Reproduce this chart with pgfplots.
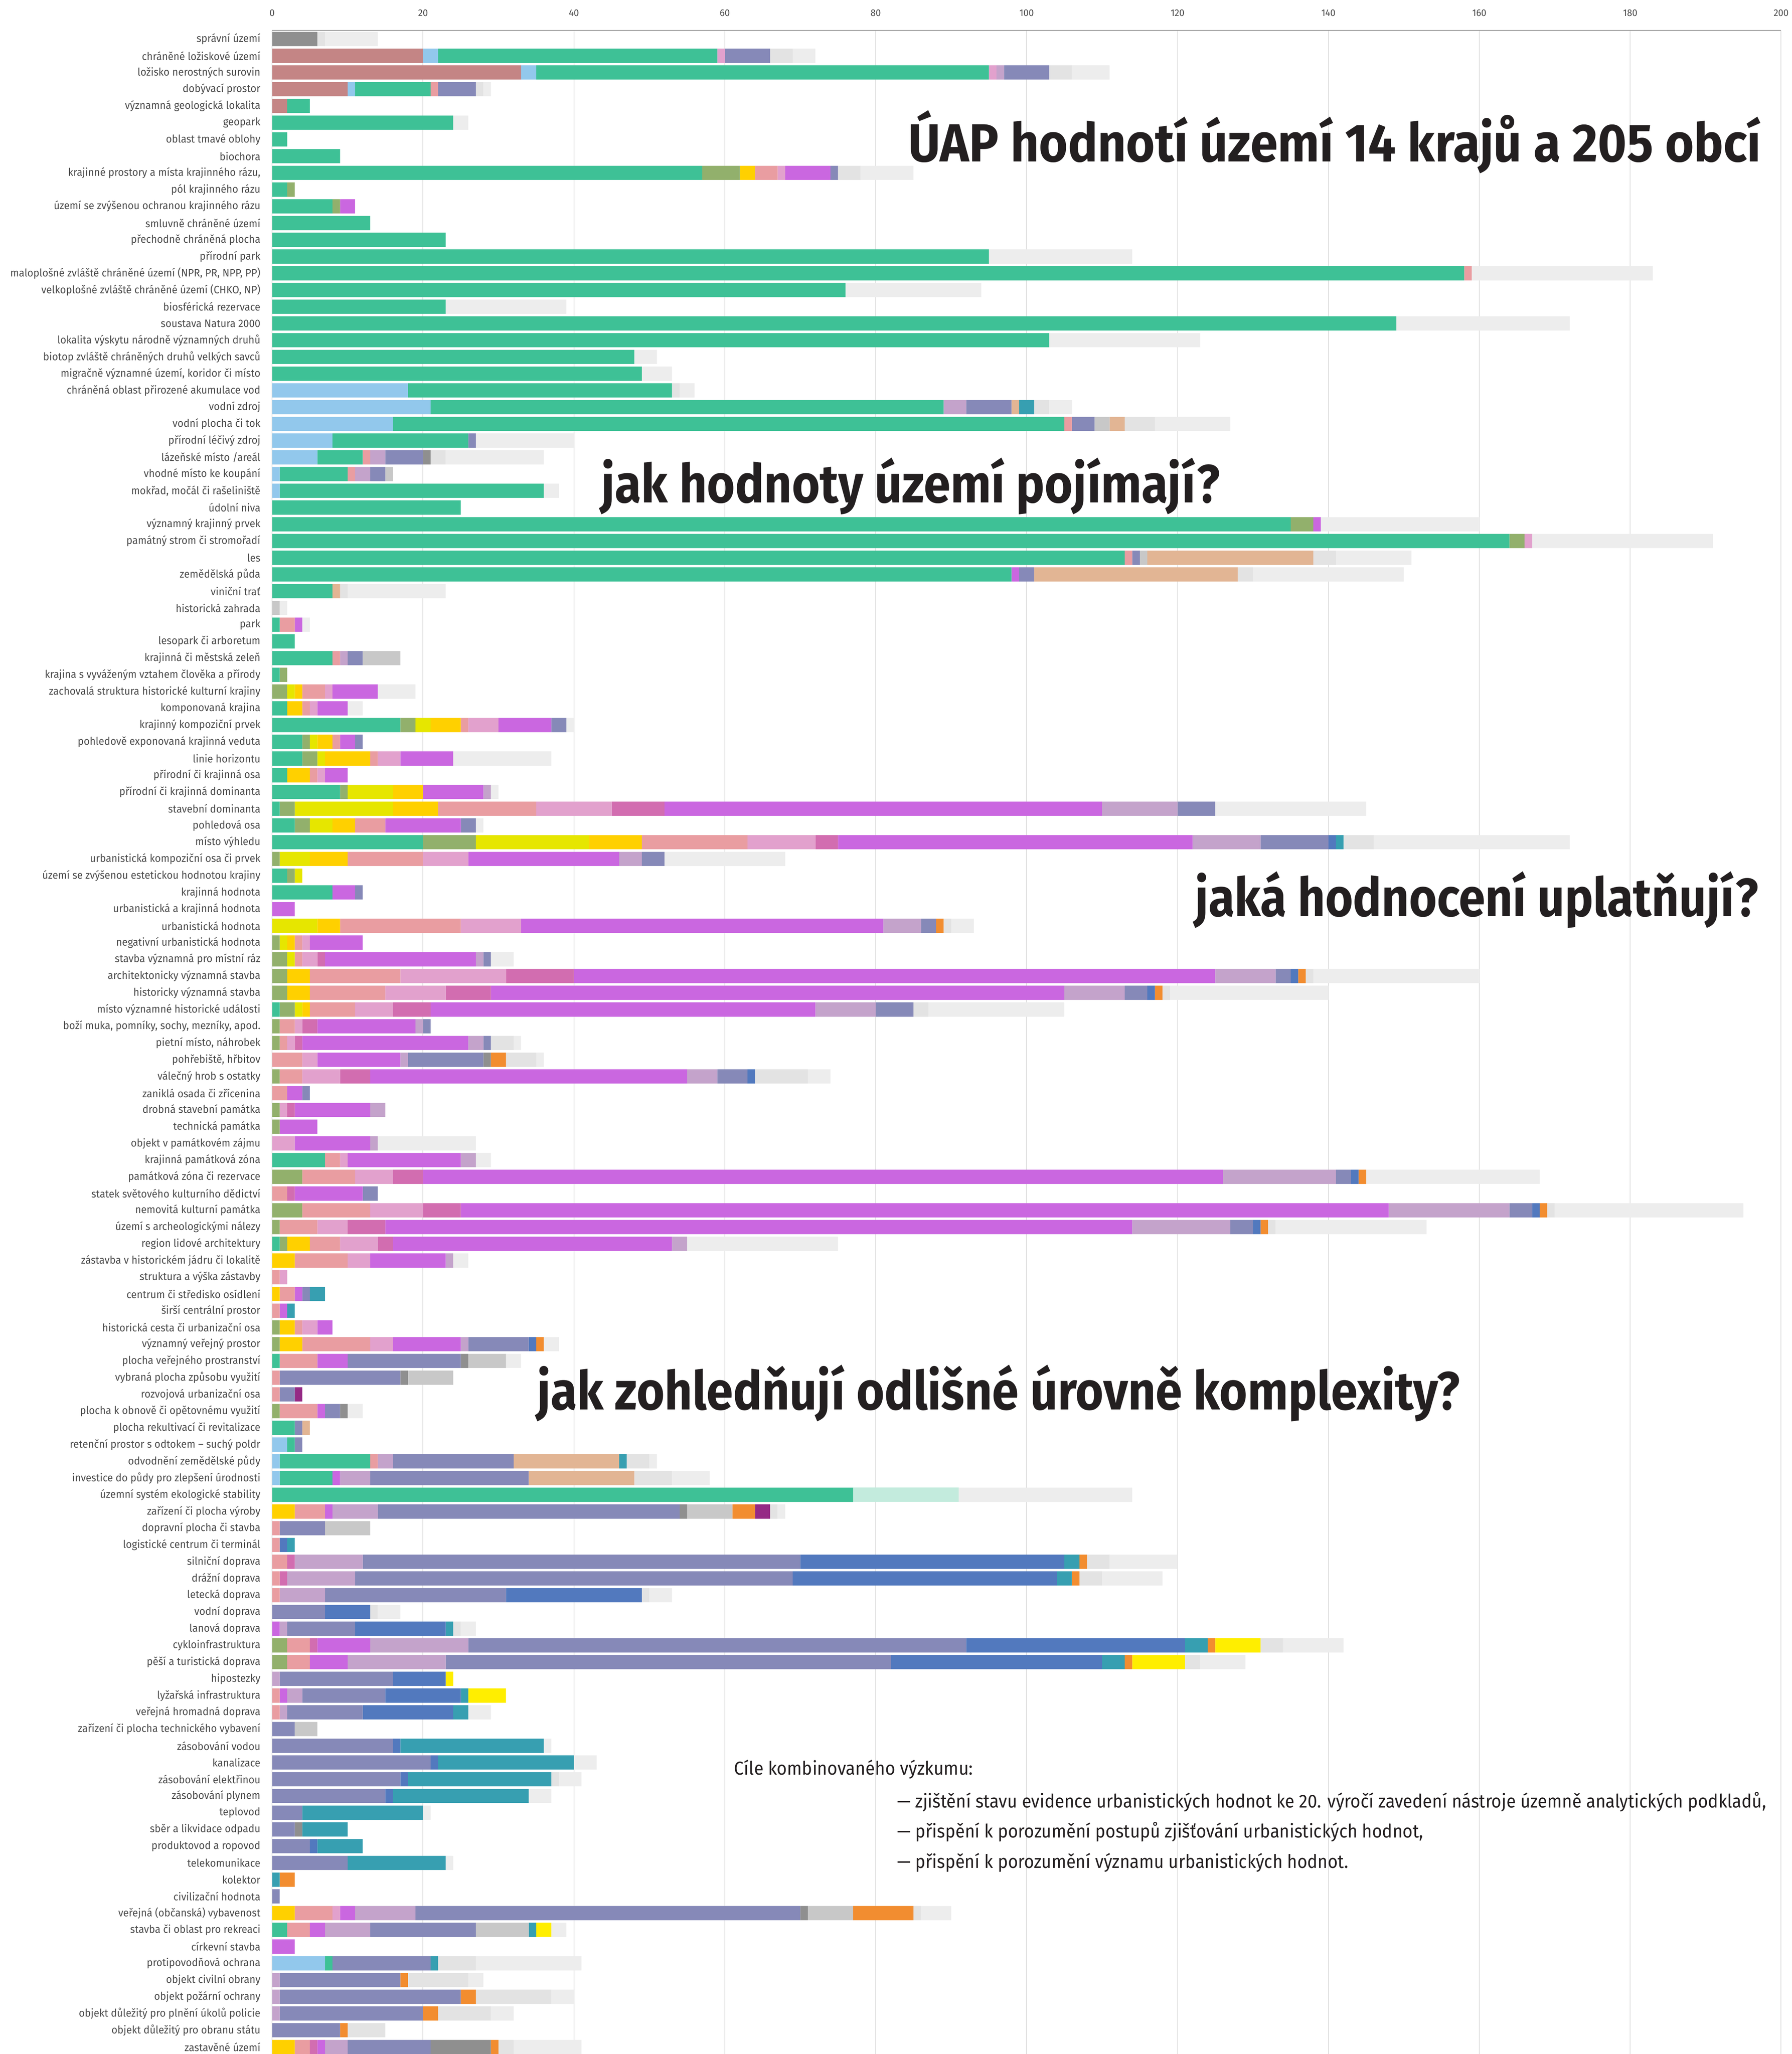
\documentclass[border=0pt]{standalone}
\usepackage{fontspec}
\usepackage{graphicx}
\usepackage{pgfplots}
\usepackage{pgfplotstable}
\pgfplotsset{compat=1.18}
\setmainfont{Fira Sans}
\newfontfamily\labelfont{Fira Sans}[FakeStretch=0.95]
\newfontfamily\titlefont{Fira Sans}

% segment colours, in stacking order
\definecolor{cro}{HTML}{C48585}
\definecolor{clb}{HTML}{92C8EC}
\definecolor{cgr}{HTML}{3EC196}
\definecolor{cmi}{HTML}{C3EBDD}
\definecolor{col}{HTML}{92B06C}
\definecolor{cle}{HTML}{E6E600}
\definecolor{cgo}{HTML}{FFD000}
\definecolor{csa}{HTML}{E99DA1}
\definecolor{cpi}{HTML}{E2A1CD}
\definecolor{cma}{HTML}{D26DB0}
\definecolor{cmg}{HTML}{CA67E0}
\definecolor{cli}{HTML}{C4A3CB}
\definecolor{cbg}{HTML}{8689B8}
\definecolor{cgy}{HTML}{8F8F8F}
\definecolor{clg}{HTML}{C8C8C8}
\definecolor{cta}{HTML}{E2B594}
\definecolor{cbl}{HTML}{5279BE}
\definecolor{cte}{HTML}{379FB1}
\definecolor{cor}{HTML}{F28D30}
\definecolor{cpu}{HTML}{952A85}
\definecolor{cy3}{HTML}{FFEE00}
\definecolor{cv1}{HTML}{E3E3E3}
\definecolor{cv2}{HTML}{EDEDED}
\definecolor{cgrid}{HTML}{E0E0E0}
\definecolor{caxis}{HTML}{A0A0A0}
\definecolor{clabel}{HTML}{4D4D4D}
\definecolor{ctitle}{HTML}{231F20}

% one row per category (top to bottom), one column per colour
\pgfplotstableread{
ro lb gr mi ol le go sa pi ma mg li bg gy lg ta bl te or pu y3 v1 v2
0 0 0 0 0 0 0 0 0 0 0 0 0 6 0 0 0 0 0 0 0 1 7
20 2 37 0 0 0 0 0 1 0 0 0 6 0 0 0 0 0 0 0 0 3 3
33 2 60 0 0 0 0 0 1 0 0 1 6 0 0 0 0 0 0 0 0 3 5
10 1 10 0 0 0 0 1 0 0 0 0 5 0 0 0 0 0 0 0 0 1 1
2 0 3 0 0 0 0 0 0 0 0 0 0 0 0 0 0 0 0 0 0 0 0
0 0 24 0 0 0 0 0 0 0 0 0 0 0 0 0 0 0 0 0 0 0 2
0 0 2 0 0 0 0 0 0 0 0 0 0 0 0 0 0 0 0 0 0 0 0
0 0 9 0 0 0 0 0 0 0 0 0 0 0 0 0 0 0 0 0 0 0 0
0 0 57 0 5 0 2 3 1 0 6 0 1 0 0 0 0 0 0 0 0 3 7
0 0 2 0 1 0 0 0 0 0 0 0 0 0 0 0 0 0 0 0 0 0 0
0 0 8 0 1 0 0 0 0 0 2 0 0 0 0 0 0 0 0 0 0 0 0
0 0 13 0 0 0 0 0 0 0 0 0 0 0 0 0 0 0 0 0 0 0 0
0 0 23 0 0 0 0 0 0 0 0 0 0 0 0 0 0 0 0 0 0 0 0
0 0 95 0 0 0 0 0 0 0 0 0 0 0 0 0 0 0 0 0 0 0 19
0 0 158 0 0 0 0 1 0 0 0 0 0 0 0 0 0 0 0 0 0 0 24
0 0 76 0 0 0 0 0 0 0 0 0 0 0 0 0 0 0 0 0 0 0 18
0 0 23 0 0 0 0 0 0 0 0 0 0 0 0 0 0 0 0 0 0 0 16
0 0 149 0 0 0 0 0 0 0 0 0 0 0 0 0 0 0 0 0 0 0 23
0 0 103 0 0 0 0 0 0 0 0 0 0 0 0 0 0 0 0 0 0 0 20
0 0 48 0 0 0 0 0 0 0 0 0 0 0 0 0 0 0 0 0 0 0 3
0 0 49 0 0 0 0 0 0 0 0 0 0 0 0 0 0 0 0 0 0 0 4
0 18 35 0 0 0 0 0 0 0 0 0 0 0 0 0 0 0 0 0 0 1 2
0 21 68 0 0 0 0 0 0 0 0 3 6 0 0 1 0 2 0 0 0 2 3
0 16 89 0 0 0 0 1 0 0 0 0 3 0 2 2 0 0 0 0 0 4 10
0 8 18 0 0 0 0 0 0 0 0 0 1 0 0 0 0 0 0 0 0 0 13
0 6 6 0 0 0 0 1 0 0 0 2 5 1 0 0 0 0 0 0 0 2 13
0 1 9 0 0 0 0 1 0 0 0 2 2 0 1 0 0 0 0 0 0 0 0
0 1 35 0 0 0 0 0 0 0 0 0 0 0 0 0 0 0 0 0 0 0 2
0 0 25 0 0 0 0 0 0 0 0 0 0 0 0 0 0 0 0 0 0 0 0
0 0 135 0 3 0 0 0 0 0 1 0 0 0 0 0 0 0 0 0 0 0 21
0 0 164 0 2 0 0 0 1 0 0 0 0 0 0 0 0 0 0 0 0 0 24
0 0 113 0 0 0 0 1 0 0 0 0 1 0 1 22 0 0 0 0 0 3 10
0 0 98 0 0 0 0 0 0 0 1 0 2 0 0 27 0 0 0 0 0 2 20
0 0 8 0 0 0 0 0 0 0 0 0 0 0 0 1 0 0 0 0 0 1 13
0 0 0 0 0 0 0 0 0 0 0 0 0 0 1 0 0 0 0 0 0 0 1
0 0 1 0 0 0 0 2 0 0 1 0 0 0 0 0 0 0 0 0 0 0 1
0 0 3 0 0 0 0 0 0 0 0 0 0 0 0 0 0 0 0 0 0 0 0
0 0 8 0 0 0 0 1 0 0 0 1 2 0 5 0 0 0 0 0 0 0 0
0 0 1 0 1 0 0 0 0 0 0 0 0 0 0 0 0 0 0 0 0 0 0
0 0 0 0 2 1 1 3 1 0 6 0 0 0 0 0 0 0 0 0 0 0 5
0 0 2 0 0 0 2 1 1 0 4 0 0 0 0 0 0 0 0 0 0 0 2
0 0 17 0 2 2 4 1 4 0 7 0 2 0 0 0 0 0 0 0 0 0 1
0 0 4 0 1 1 2 1 0 0 2 0 1 0 0 0 0 0 0 0 0 0 0
0 0 4 0 2 1 6 1 3 0 7 0 0 0 0 0 0 0 0 0 0 0 13
0 0 2 0 0 0 3 1 1 0 3 0 0 0 0 0 0 0 0 0 0 0 0
0 0 9 0 1 6 4 0 0 0 8 1 0 0 0 0 0 0 0 0 0 0 1
0 0 1 0 2 13 6 13 10 7 58 10 5 0 0 0 0 0 0 0 0 0 20
0 0 3 0 2 3 3 4 0 0 10 0 2 0 0 0 0 0 0 0 0 0 1
0 0 20 0 7 15 7 14 9 3 47 9 9 0 0 0 1 1 0 0 0 4 26
0 0 0 0 1 4 5 10 6 0 20 3 3 0 0 0 0 0 0 0 0 0 16
0 0 2 0 1 1 0 0 0 0 0 0 0 0 0 0 0 0 0 0 0 0 0
0 0 8 0 0 0 0 0 0 0 3 0 1 0 0 0 0 0 0 0 0 0 0
0 0 0 0 0 0 0 0 0 0 3 0 0 0 0 0 0 0 0 0 0 0 0
0 0 0 0 0 6 3 16 8 0 48 5 2 0 0 0 0 0 1 0 0 1 3
0 0 0 0 1 1 1 1 1 0 7 0 0 0 0 0 0 0 0 0 0 0 0
0 0 0 0 2 1 0 1 2 1 20 1 1 0 0 0 0 0 0 0 0 0 3
0 0 0 0 2 0 3 12 14 9 85 8 2 0 0 0 1 0 1 0 0 1 22
0 0 0 0 2 0 3 10 8 6 76 8 3 0 0 0 1 0 1 0 0 1 21
0 0 1 0 2 1 1 6 5 5 51 8 5 0 0 0 0 0 0 0 0 2 18
0 0 0 0 1 0 0 2 1 2 13 1 1 0 0 0 0 0 0 0 0 0 0
0 0 0 0 1 0 0 1 1 1 22 2 1 0 0 0 0 0 0 0 0 3 1
0 0 0 0 0 0 0 4 2 0 11 1 10 1 0 0 0 0 2 0 0 4 1
0 0 0 0 1 0 0 3 5 4 42 4 4 0 0 0 1 0 0 0 0 7 3
0 0 0 0 0 0 0 2 0 0 2 0 1 0 0 0 0 0 0 0 0 0 0
0 0 0 0 1 0 0 0 1 1 10 2 0 0 0 0 0 0 0 0 0 0 0
0 0 0 0 1 0 0 0 0 0 5 0 0 0 0 0 0 0 0 0 0 0 0
0 0 0 0 0 0 0 0 3 0 10 1 0 0 0 0 0 0 0 0 0 0 13
0 0 7 0 0 0 0 2 1 0 15 2 0 0 0 0 0 0 0 0 0 0 2
0 0 0 0 4 0 0 7 5 4 106 15 2 0 0 0 1 0 1 0 0 0 23
0 0 0 0 0 0 0 2 0 1 9 0 2 0 0 0 0 0 0 0 0 0 0
0 0 0 0 4 0 0 9 7 5 123 16 3 0 0 0 1 0 1 0 0 1 25
0 0 0 0 1 0 0 5 4 5 99 13 3 0 0 0 1 0 1 0 0 1 20
0 0 1 0 1 0 3 4 5 2 37 2 0 0 0 0 0 0 0 0 0 0 20
0 0 0 0 0 0 3 7 3 0 10 1 0 0 0 0 0 0 0 0 0 0 2
0 0 0 0 0 0 0 1 1 0 0 0 0 0 0 0 0 0 0 0 0 0 0
0 0 0 0 0 0 1 2 0 0 1 0 1 0 0 0 0 2 0 0 0 0 0
0 0 0 0 0 0 0 1 0 0 1 0 0 0 0 0 0 1 0 0 0 0 0
0 0 0 0 1 0 2 1 2 0 2 0 0 0 0 0 0 0 0 0 0 0 0
0 0 0 0 1 0 3 9 3 0 9 1 8 0 0 0 1 0 1 0 0 0 2
0 0 1 0 0 0 0 5 0 0 4 0 15 1 5 0 0 0 0 0 0 0 2
0 0 0 0 0 0 0 1 0 0 0 0 16 1 6 0 0 0 0 0 0 0 0
0 0 0 0 0 0 0 1 0 0 0 0 2 0 0 0 0 0 0 1 0 0 0
0 0 0 0 1 0 0 5 0 0 1 0 2 1 0 0 0 0 0 0 0 0 2
0 0 3 0 0 0 0 0 0 0 0 0 1 0 0 1 0 0 0 0 0 0 0
0 2 1 0 0 0 0 0 0 0 0 0 1 0 0 0 0 0 0 0 0 0 0
0 1 12 0 0 0 0 1 0 0 0 2 16 0 0 14 0 1 0 0 0 3 1
0 1 7 0 0 0 0 0 0 0 1 4 21 0 0 14 0 0 0 0 0 5 5
0 0 77 14 0 0 0 0 0 0 0 0 0 0 0 0 0 0 0 0 0 0 23
0 0 0 0 0 0 3 4 0 0 1 6 40 1 6 0 0 0 3 2 0 1 1
0 0 0 0 0 0 0 1 0 0 0 0 6 0 6 0 0 0 0 0 0 0 0
0 0 0 0 0 0 0 1 0 0 0 0 0 0 0 0 1 1 0 0 0 0 0
0 0 0 0 0 0 0 2 0 1 0 9 58 0 0 0 35 2 1 0 0 3 9
0 0 0 0 0 0 0 1 0 1 0 9 58 0 0 0 35 2 1 0 0 3 8
0 0 0 0 0 0 0 1 0 0 0 6 24 0 0 0 18 0 0 0 0 1 3
0 0 0 0 0 0 0 0 0 0 0 0 7 0 0 0 6 0 0 0 0 1 3
0 0 0 0 0 0 0 0 0 0 1 1 9 0 0 0 12 1 0 0 0 1 2
0 0 0 0 2 0 0 3 0 1 7 13 66 0 0 0 29 3 1 0 6 3 8
0 0 0 0 2 0 0 3 0 0 5 13 59 0 0 0 28 3 1 0 7 2 6
0 0 0 0 0 0 0 0 0 0 0 1 15 0 0 0 7 0 0 0 1 0 0
0 0 0 0 0 0 0 1 0 0 1 2 11 0 0 0 10 1 0 0 5 0 0
0 0 0 0 0 0 0 1 0 0 0 1 10 0 0 0 12 2 0 0 0 0 3
0 0 0 0 0 0 0 0 0 0 0 0 3 0 3 0 0 0 0 0 0 0 0
0 0 0 0 0 0 0 0 0 0 0 0 16 0 0 0 1 19 0 0 0 0 1
0 0 0 0 0 0 0 0 0 0 0 0 21 0 0 0 1 18 0 0 0 0 3
0 0 0 0 0 0 0 0 0 0 0 0 17 0 0 0 1 19 0 0 0 1 3
0 0 0 0 0 0 0 0 0 0 0 0 15 0 0 0 1 18 0 0 0 0 3
0 0 0 0 0 0 0 0 0 0 0 0 4 0 0 0 0 16 0 0 0 0 1
0 0 0 0 0 0 0 0 0 0 0 0 3 1 0 0 0 6 0 0 0 0 0
0 0 0 0 0 0 0 0 0 0 0 0 5 0 0 0 1 6 0 0 0 0 0
0 0 0 0 0 0 0 0 0 0 0 0 10 0 0 0 0 13 0 0 0 0 1
0 0 0 0 0 0 0 0 0 0 0 0 0 0 0 0 0 1 2 0 0 0 0
0 0 0 0 0 0 0 0 0 0 0 0 1 0 0 0 0 0 0 0 0 0 0
0 0 0 0 0 0 3 5 1 0 2 8 51 1 6 0 0 0 8 0 0 1 4
0 0 2 0 0 0 0 3 0 0 2 6 14 0 7 0 0 1 0 0 2 0 2
0 0 0 0 0 0 0 0 0 0 3 0 0 0 0 0 0 0 0 0 0 0 0
0 7 1 0 0 0 0 0 0 0 0 0 13 0 0 0 0 1 0 0 0 5 14
0 0 0 0 0 0 0 0 0 0 0 1 16 0 0 0 0 0 1 0 0 8 2
0 0 0 0 0 0 0 0 0 0 0 1 24 0 0 0 0 0 2 0 0 10 3
0 0 0 0 0 0 0 0 0 0 0 1 19 0 0 0 0 0 2 0 0 7 3
0 0 0 0 0 0 0 0 0 0 0 0 9 0 0 0 0 0 1 0 0 5 0
0 0 0 0 0 0 3 2 0 1 1 3 11 8 0 0 0 0 1 0 0 2 9
}\data

\begin{document}
\begin{tikzpicture}
\begin{axis}[
  scale only axis,
  width=927.25pt, height=1243.9pt,
  xbar stacked, bar width=0.85,
  xmin=0, xmax=200, ymin=-120.43, ymax=0.51,
  axis x line*=top, axis y line*=left,
  x axis line style={draw=caxis, line width=0.6pt},
  y axis line style={draw=none},
  xtick={0,20,...,200},
  ytick={0,-1,...,-120},
  major tick length=0pt,
  xmajorgrids, grid style={draw=cgrid, line width=0.5pt},
  /pgf/number format/assume math mode=true,
  xticklabel style={font=\labelfont\fontsize{6}{6}\selectfont, text=clabel,
    anchor=south, inner sep=0pt, yshift=8.5pt},
  yticklabel style={font=\labelfont\fontsize{6.6}{6.6}\selectfont, text=clabel,
    anchor=east, inner sep=0pt, xshift=-7pt},
  yticklabels={
    {správní území},
    {chráněné ložiskové území},
    {ložisko nerostných surovin},
    {dobývací prostor},
    {významná geologická lokalita},
    {geopark},
    {oblast tmavé oblohy},
    {biochora},
    {krajinné prostory a místa krajinného rázu,},
    {pól krajinného rázu},
    {území se zvýšenou ochranou krajinného rázu},
    {smluvně chráněné území},
    {přechodně chráněná plocha},
    {přírodní park},
    {maloplošné zvláště chráněné území (NPR, PR, NPP, PP)},
    {velkoplošné zvláště chráněné území (CHKO, NP)},
    {biosférická rezervace},
    {soustava Natura 2000},
    {lokalita výskytu národně významných druhů},
    {biotop zvláště chráněných druhů velkých savců},
    {migračně významné území, koridor či místo},
    {chráněná oblast přirozené akumulace vod},
    {vodní zdroj},
    {vodní plocha či tok},
    {přírodní léčivý zdroj},
    {lázeňské místo /areál},
    {vhodné místo ke koupání},
    {mokřad, močál či rašeliniště},
    {údolní niva},
    {významný krajinný prvek},
    {památný strom či stromořadí},
    {les},
    {zemědělská půda},
    {viniční trať},
    {historická zahrada},
    {park},
    {lesopark či arboretum},
    {krajinná či městská zeleň},
    {krajina s vyváženým vztahem člověka a přírody},
    {zachovalá struktura historické kulturní krajiny},
    {komponovaná krajina},
    {krajinný kompoziční prvek},
    {pohledově exponovaná krajinná veduta},
    {linie horizontu},
    {přírodní či krajinná osa},
    {přírodní či krajinná dominanta},
    {stavební dominanta},
    {pohledová osa},
    {místo výhledu},
    {urbanistická kompoziční osa či prvek},
    {území se zvýšenou estetickou hodnotou krajiny},
    {krajinná hodnota},
    {urbanistická a krajinná hodnota},
    {urbanistická hodnota},
    {negativní urbanistická hodnota},
    {stavba významná pro místní ráz},
    {architektonicky významná stavba},
    {historicky významná stavba},
    {místo významné historické události},
    {boží muka, pomníky, sochy, mezníky, apod.},
    {pietní místo, náhrobek},
    {pohřebiště, hřbitov},
    {válečný hrob s ostatky},
    {zaniklá osada či zřícenina},
    {drobná stavební památka},
    {technická památka},
    {objekt v památkovém zájmu},
    {krajinná památková zóna},
    {památková zóna či rezervace},
    {statek světového kulturního dědictví},
    {nemovitá kulturní památka},
    {území s archeologickými nálezy},
    {region lidové architektury},
    {zástavba v historickém jádru či lokalitě},
    {struktura a výška zástavby},
    {centrum či středisko osídlení},
    {širší centrální prostor},
    {historická cesta či urbanizační osa},
    {významný veřejný prostor},
    {plocha veřejného prostranství},
    {vybraná plocha způsobu využití},
    {rozvojová urbanizační osa},
    {plocha k obnově či opětovnému využití},
    {plocha rekultivací či revitalizace},
    {retenční prostor s odtokem – suchý poldr},
    {odvodnění zemědělské půdy},
    {investice do půdy pro zlepšení úrodnosti},
    {územní systém ekologické stability},
    {zařízení či plocha výroby},
    {dopravní plocha či stavba},
    {logistické centrum či terminál},
    {silniční doprava},
    {drážní doprava},
    {letecká doprava},
    {vodní doprava},
    {lanová doprava},
    {cykloinfrastruktura},
    {pěší a turistická doprava},
    {hipostezky},
    {lyžařská infrastruktura},
    {veřejná hromadná doprava},
    {zařízení či plocha technického vybavení},
    {zásobování vodou},
    {kanalizace},
    {zásobování elektřinou},
    {zásobování plynem},
    {teplovod},
    {sběr a likvidace odpadu},
    {produktovod a ropovod},
    {telekomunikace},
    {kolektor},
    {civilizační hodnota},
    {veřejná (občanská) vybavenost},
    {stavba či oblast pro rekreaci},
    {církevní stavba},
    {protipovodňová ochrana},
    {objekt civilní obrany},
    {objekt požární ochrany},
    {objekt důležitý pro plnění úkolů policie},
    {objekt důležitý pro obranu státu},
    {zastavěné území}
  },
  clip=false,
]
\pgfplotsinvokeforeach{ro,lb,gr,mi,ol,le,go,sa,pi,ma,mg,li,bg,gy,lg,ta,bl,te,or,pu,y3,v1,v2}{
  \addplot[fill=c#1, draw=none] table[x=#1, y expr=-\coordindex] {\data};
}

\node[anchor=base east, inner sep=0pt, text=ctitle] at (axis cs:197.4,-7.34)
  {\resizebox{524pt}{\height}{\titlefont\bfseries\fontsize{33}{33}\selectfont ÚAP hodnotí území 14 krajů a 205 obcí}};
\node[anchor=base west, inner sep=0pt, text=ctitle] at (axis cs:43.6,-27.71)
  {\resizebox{380pt}{\height}{\titlefont\bfseries\fontsize{33}{33}\selectfont jak hodnoty území pojímají?}};
\node[anchor=base west, inner sep=0pt, text=ctitle] at (axis cs:122.3,-52.43)
  {\resizebox{346pt}{\height}{\titlefont\bfseries\fontsize{33}{33}\selectfont jaká hodnocení uplatňují?}};
\node[anchor=base west, inner sep=0pt, text=ctitle] at (axis cs:35.1,-81.92)
  {\resizebox{567pt}{\height}{\titlefont\bfseries\fontsize{33}{33}\selectfont jak zohledňují odlišné úrovně komplexity?}};

\node[anchor=base west, inner sep=0pt, text=ctitle] at (axis cs:61.2,-103.74)
  {\resizebox{146.75pt}{\height}{\fontsize{11.5}{11.5}\selectfont Cíle kombinovaného výzkumu:}};
\node[anchor=base west, inner sep=0pt, text=ctitle] at (axis cs:82.8,-105.71)
  {\resizebox{534pt}{\height}{\fontsize{11.5}{11.5}\selectfont — zjištění stavu evidence urbanistických hodnot ke 20. výročí zavedení nástroje územně analytických podkladů,}};
\node[anchor=base west, inner sep=0pt, text=ctitle] at (axis cs:82.8,-107.49)
  {\resizebox{323.25pt}{\height}{\fontsize{11.5}{11.5}\selectfont — přispění k porozumění postupů zjišťování urbanistických hodnot,}};
\node[anchor=base west, inner sep=0pt, text=ctitle] at (axis cs:82.8,-109.31)
  {\resizebox{277.25pt}{\height}{\fontsize{11.5}{11.5}\selectfont — přispění k porozumění významu urbanistických hodnot.}};

\coordinate (bbsw) at (axis cs:-36.07,-120.42);
\coordinate (bbne) at (axis cs:201.40,2.333);
\end{axis}
\pgfresetboundingbox
\useasboundingbox (bbsw) rectangle (bbne);
\end{tikzpicture}
\end{document}
